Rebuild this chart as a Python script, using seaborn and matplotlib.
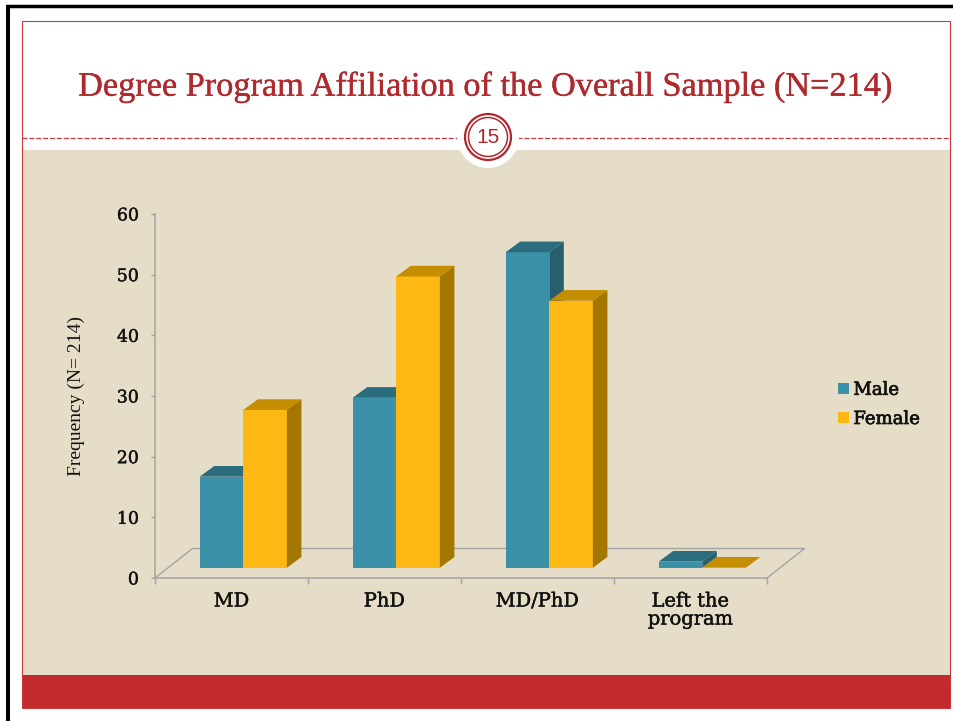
import numpy as np
import pandas as pd
import matplotlib
matplotlib.use("Agg")
import matplotlib.pyplot as plt
import matplotlib.patheffects as pe
import seaborn as sns
from matplotlib.patches import Rectangle, Circle, Polygon, Patch

# data
programs = ["MD", "PhD", "MD/PhD", "Left the\nprogram"]
male = [15, 28, 52, 1]
female = [26, 48, 44, 0]
groups = ["Male", "Female"]
yticks = [0, 10, 20, 30, 40, 50, 60]

title = "Degree Program Affiliation of the Overall Sample (N=214)"
ylabel = "Frequency (N= 214)"
slide_no = "15"

# colours for the fake 3d columns
front = {"Male": "#3A91A8", "Female": "#FDB813"}
top = {"Male": "#2B6C7D", "Female": "#C58D00"}
side = {"Male": "#285F6E", "Female": "#A47800"}
grey = "#A3A3A3"
ink = "#111111"
heavy = [pe.withStroke(linewidth=0.3, foreground=ink)]

df = pd.DataFrame({
    "program": programs * 2,
    "count": male + female,
    "sex": ["Male"] * len(programs) + ["Female"] * len(programs),
})

sns.set_style("white")

W, H = 954, 721
fig = plt.figure(figsize=(W / 100, H / 100), dpi=100)

# slide backdrop, drawn in pixel units
bg = fig.add_axes([0, 0, 1, 1])
bg.set_xlim(0, W)
bg.set_ylim(H, 0)
bg.axis("off")
bg.add_patch(Rectangle((22, 150), 928, 525, color="#E5DDC8", lw=0, zorder=1))
bg.add_patch(Rectangle((22, 675), 928, 33, color="#C22B2E", lw=0, zorder=1))
bg.add_patch(Rectangle((22, 20.5), 928, 687.5, fill=False, ec="#C8383C", lw=0.8, zorder=2))
bg.plot([22, 950], [137.5, 137.5], color="#C0393C", lw=0.9, ls=(0, (4, 1.5)), zorder=2)
bg.add_patch(Circle((488, 137), 31, color="white", lw=0, zorder=3))
bg.add_patch(Circle((488, 137), 23, fill=False, ec="#B0282C", lw=1.6, zorder=4))
bg.add_patch(Circle((488, 137), 19.5, fill=False, ec="#B0282C", lw=1.1, zorder=4))
bg.text(488, 137.5, slide_no, ha="center", va="center", fontsize=15,
        family="Liberation Sans", color="#B0282C", zorder=5)
bg.plot([8.5, 8.5], [4.5, H], color="black", lw=2.9, solid_capstyle="butt")
bg.plot([6.5, W], [6.3, 6.3], color="black", lw=2.5, solid_capstyle="butt")
bg.text(484.5, 95.7, title, ha="center", va="baseline", fontsize=24.7,
        family="Liberation Serif", color="#AE2A2E",
        path_effects=[pe.withStroke(linewidth=0.25, foreground="#AE2A2E")])

# chart area
ax = fig.add_axes([155 / W, 1 - 578 / H, 612 / W, 364 / H])
ax.patch.set_alpha(0)
sns.barplot(data=df, x="program", y="count", hue="sex", palette=front,
            width=0.57, saturation=1, legend=False, ax=ax)
n = len(programs)
ax.set_xlim(-0.5, n - 0.5)
ax.set_ylim(0, 60)

# depth offsets (data units)
bx, by = 0.077, 1.70     # columns sit in the middle of the floor
ddx, ddy = 0.095, 1.76   # column depth
fx, fy = 0.245, 4.86     # floor depth

bars = list(ax.patches)
for i, bar in enumerate(bars):
    sex = groups[i // n]
    z = 2 + i // n
    bar.set_x(bar.get_x() + bx)
    bar.set_y(by)
    bar.set_zorder(z)
    bar.set_linewidth(0)
    x0 = bar.get_x()
    x1 = x0 + bar.get_width()
    h = by + bar.get_height()
    ax.add_patch(Polygon([(x0, h), (x1, h), (x1 + ddx, h + ddy), (x0 + ddx, h + ddy)],
                         closed=True, color=top[sex], lw=0, zorder=z, clip_on=False))
    ax.add_patch(Polygon([(x1, by), (x1, h), (x1 + ddx, h + ddy), (x1 + ddx, by + ddy)],
                         closed=True, color=side[sex], lw=0, zorder=z, clip_on=False))

# floor outline
ax.plot([-0.5, -0.5 + fx, n - 0.5 + fx, n - 0.5], [0, fy, fy, 0],
        color=grey, lw=1, clip_on=False, zorder=1)

sns.despine(ax=ax)
for s in ["left", "bottom"]:
    ax.spines[s].set_color(grey)
    ax.spines[s].set_linewidth(1.1)

ax.set_yticks(yticks)
ax.set_xticks(range(n))
ax.set_xticklabels(programs, fontsize=14, family="DejaVu Serif", color=ink,
                   linespacing=1.0)
ax.set_xticks(np.arange(-0.5, n, 1), minor=True)
ax.tick_params(axis="x", which="major", bottom=True, length=0, pad=10.5)
ax.tick_params(axis="x", which="minor", bottom=True, length=4, color=grey, width=1)
ax.tick_params(axis="y", left=True, length=3, color=grey, width=1, pad=8.6,
               labelsize=12.5, labelcolor=ink)
for t in ax.get_yticklabels() + ax.get_xticklabels():
    t.set_family("DejaVu Serif")
    t.set_path_effects(heavy)

ax.set_xlabel("")
ax.set_ylabel(ylabel, fontsize=14, family="Liberation Serif", color=ink)
ax.yaxis.set_label_coords((85 - 155) / 612, 0.5)

handles = [Patch(facecolor=front[g], edgecolor="none", label=g) for g in groups]
leg = ax.legend(handles=handles, loc="center left",
                bbox_to_anchor=(838 / W, 1 - 404.4 / H), bbox_transform=fig.transFigure,
                frameon=False, prop={"family": "DejaVu Serif", "size": 13},
                labelcolor=ink, handlelength=0.6, handleheight=0.6,
                handletextpad=0.25, labelspacing=0.62, borderpad=0, borderaxespad=0)
for t in leg.get_texts():
    t.set_path_effects([pe.withStroke(linewidth=0.5, foreground=ink)])

fig.savefig("out.png", dpi=100, facecolor="white")
